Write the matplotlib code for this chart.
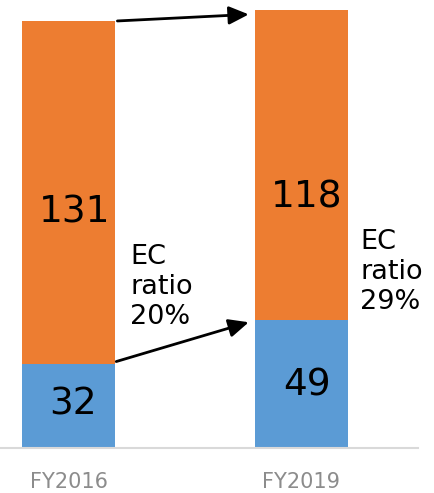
import matplotlib.pyplot as plt

# data
years = ['FY2016', 'FY2019']
ec = [32, 49]
other = [131, 118]
ec_ratio = ['20%', '29%']

fig = plt.figure(figsize=(4.34, 4.93), dpi=100)
ax = fig.add_axes([0, 45 / 493, 418 / 434, 448 / 493])

x = [0, 1]
w = 0.4
ax.bar(x, ec, width=w, color='#5B9BD5')
ax.bar(x, other, width=w, bottom=ec, color='#ED7D31')

ax.set_xlim(-0.295, 1.503)
ax.set_ylim(0, 171)

# value labels
ax.text(0.028, 90, str(other[0]), ha='center', va='center', fontsize=27)
ax.text(0.017, 16.5, str(ec[0]), ha='center', va='center', fontsize=27)
ax.text(1.026, 95.5, str(other[1]), ha='center', va='center', fontsize=27)
ax.text(1.026, 24, str(ec[1]), ha='center', va='center', fontsize=27)

# EC ratio notes
ax.text(0.265, 61.5, 'EC\nratio\n' + ec_ratio[0], ha='left', va='center', fontsize=19.5, linespacing=1.2)
ax.text(1.255, 67, 'EC\nratio\n' + ec_ratio[1], ha='left', va='center', fontsize=19.5, linespacing=1.2)

# arrows
arrow = dict(arrowstyle='-|>,head_length=1.2,head_width=0.55', color='black', lw=2,
             shrinkA=0, shrinkB=0)
ax.annotate('', xy=(1 - w / 2 - 0.025, ec[1] + other[1] - 1.5),
            xytext=(w / 2 + 0.01, ec[0] + other[0]), arrowprops=arrow)
ax.annotate('', xy=(1 - w / 2 - 0.025, ec[1] - 1),
            xytext=(w / 2 + 0.005, ec[0] + 1), arrowprops=arrow)

ax.set_xticks(x)
ax.set_xticklabels(years, fontsize=15, color='#8c8c8c')
ax.tick_params(axis='x', length=0, pad=17)
ax.set_yticks([])
for s in ['top', 'right', 'left']:
    ax.spines[s].set_visible(False)
ax.spines['bottom'].set_color('#d9d9d9')
ax.spines['bottom'].set_linewidth(1.5)

fig.savefig('out.png', dpi=100)
